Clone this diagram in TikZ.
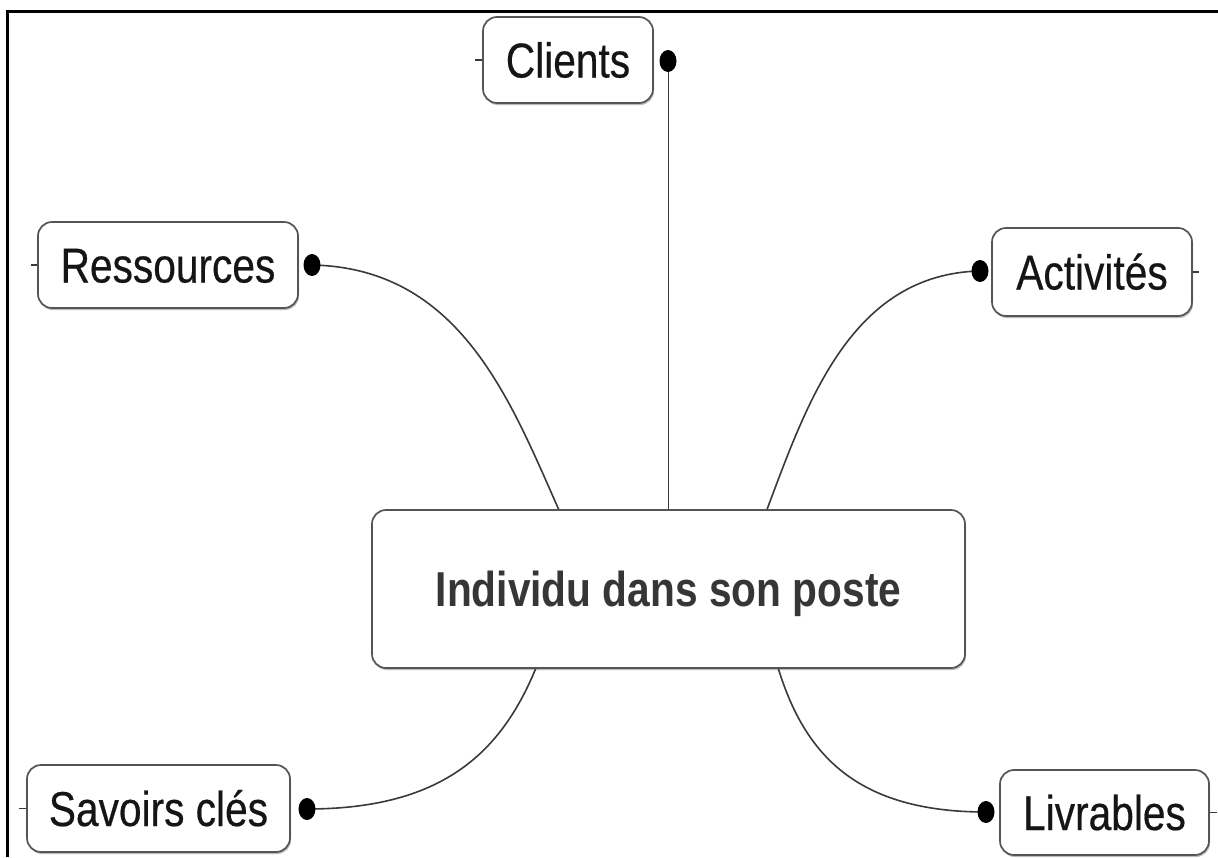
\documentclass[tikz,border=0pt]{standalone}
\usepackage{fontspec}
\newfontfamily\nodefont[FakeStretch=0.83,FakeBold=0.4]{Liberation Sans}
\newfontfamily\centerfont[FakeStretch=0.83]{Liberation Sans}
\usetikzlibrary{shapes.geometric,shadows}
\definecolor{boxline}{HTML}{555555}
\definecolor{linkline}{HTML}{3A3A3A}
\definecolor{leaftext}{HTML}{151515}
\definecolor{maintext}{HTML}{363636}
\begin{document}
\begin{tikzpicture}[x=1pt,y=-1pt,
  boxbase/.style={draw=boxline, line width=1.7pt, rounded corners=14pt, fill=white,
    inner sep=0pt, text height=35pt, text depth=0pt,
    drop shadow={shadow xshift=1pt, shadow yshift=-2pt, fill=black!45, opacity=0.6}},
  leaf/.style={boxbase, font=\nodefont\fontsize{49}{55}\selectfont, text=leaftext},
  mainbox/.style={boxbase, font=\centerfont\bfseries\fontsize{49}{55}\selectfont, text=maintext},
  knob/.style={shape=ellipse, fill=black, draw=none, inner sep=0pt, minimum width=17pt, minimum height=22pt},
  link/.style={draw=linkline, line width=1.6pt},
  stub/.style={draw=linkline, line width=1.4pt}
]
\useasboundingbox (0,0) rectangle (1218,857);
\fill[white] (0,0) rectangle (1218,857);
% frame (top and left edges)
\draw[line width=3pt, black] (7.5,857) -- (7.5,11.3) -- (1218,11.3);

% nodes
\node[mainbox, minimum width=593pt, minimum height=158pt] (central) at (668.5,589) {Individu dans son poste};
\node[leaf, minimum width=170pt, minimum height=86pt] (clients) at (568,60) {Clients};
\node[leaf, minimum width=260pt, minimum height=86pt] (ressources) at (168,265) {Ressources};
\node[leaf, minimum width=200pt, minimum height=88pt] (activites) at (1092,272) {Activités};
\node[leaf, minimum width=263pt, minimum height=87pt] (savoirs) at (158.5,808.5) {Savoirs clés};
\node[leaf, minimum width=209pt, minimum height=85pt] (livrables) at (1104.5,812.5) {Livrables};

% connectors
\draw[link] (central.north) -- (central.north |- 0,61);
\draw[link] (central.144.4) .. controls (510,400) and (460,268) .. (312,265);
\draw[link] (central.39.3) .. controls (807,403) and (851,274) .. (980,271);
\draw[link] (central.211.6) .. controls (500,755) and (440,809) .. (307,809);
\draw[link] (central.324.7) .. controls (805,755) and (857,812) .. (986,812);

% knobs
\node[knob] (kcli) at (668,61) {};
\node[knob] (kres) at (312,265) {};
\node[knob] (kact) at (980,271) {};
\node[knob] (ksav) at (307,809) {};
\node[knob] (kliv) at (986,812) {};

% stubs
\draw[stub] (clients.west) -- ++(-7,0);
\draw[stub] (ressources.west) -- ++(-6,0);
\draw[stub] (activites.east) -- ++(6,0);
\draw[stub] (savoirs.west) -- ++(-7,0);
\draw[stub] (livrables.east) -- ++(7,0);
\end{tikzpicture}
\end{document}
